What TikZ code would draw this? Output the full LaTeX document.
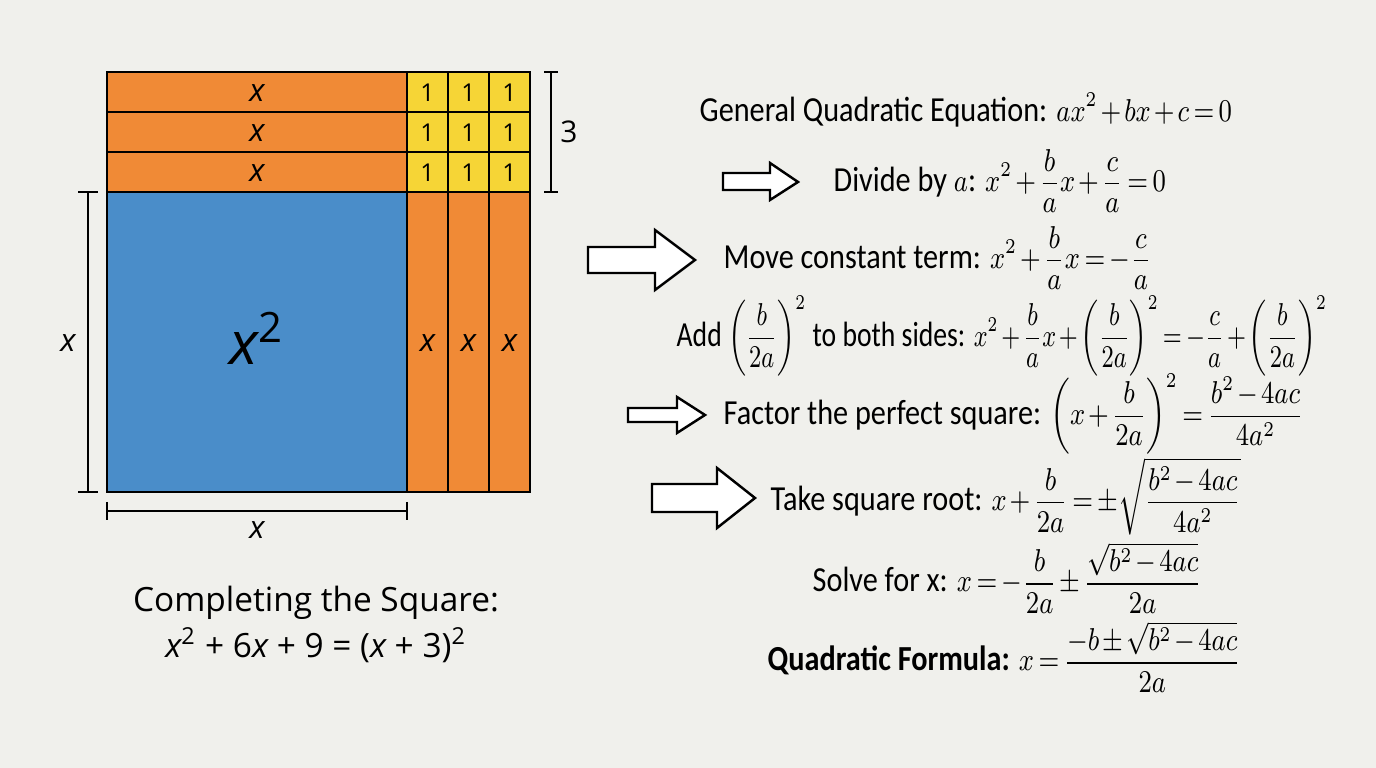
\documentclass[tikz,border=0pt]{standalone}
\usepackage{amsmath}
\usepackage{fontspec}
\setmainfont{Carlito}[FakeStretch=0.86]
\newfontfamily\figfont{Open Sans}
\newcommand{\eq}[1]{\scalebox{0.82}[1]{\fontsize{9}{11}\selectfont$\displaystyle\medmuskip=2mu\thickmuskip=3mu #1$}}

\definecolor{bgcol}{HTML}{F0F0EC}
\definecolor{tileorange}{HTML}{F08A36}
\definecolor{tileyellow}{HTML}{F6D536}
\definecolor{tileblue}{HTML}{4A8DC9}

\tikzset{
  tile/.style={draw=black, line width=0.6pt},
  dimline/.style={line width=0.6pt},
  xlabel/.style={inner sep=0pt, font=\figfont\itshape\fontsize{9}{11}\selectfont},
  onelabel/.style={inner sep=0pt, font=\figfont\fontsize{7}{8}\selectfont},
  titletext/.style={inner sep=0pt, font=\figfont\fontsize{9.5}{11}\selectfont},
  steptext/.style={anchor=west, inner sep=0pt, font=\fontsize{10}{12}\selectfont},
  openarrow/.style={draw=black, fill=white, line width=0.7pt, line join=miter},
}

\begin{document}
\begin{tikzpicture}[x=0.01cm,y=-0.01cm]
    \fill[bgcol] (0,0) rectangle (1376,768);
    \useasboundingbox (0,0) rectangle (1376,768);

    % top strips
    \draw[tile, fill=tileorange] (107,72) rectangle (407,112);
    \draw[tile, fill=tileorange] (107,112) rectangle (407,152);
    \draw[tile, fill=tileorange] (107,152) rectangle (407,192);
    \node[xlabel] (topx1) at (257,93) {x};
    \node[xlabel] (topx2) at (257,133) {x};
    \node[xlabel] (topx3) at (257,173) {x};

    % unit squares
    \draw[tile, fill=tileyellow] (407,72) rectangle (448,112);
    \draw[tile, fill=tileyellow] (448,72) rectangle (489,112);
    \draw[tile, fill=tileyellow] (489,72) rectangle (530,112);
    \draw[tile, fill=tileyellow] (407,112) rectangle (448,152);
    \draw[tile, fill=tileyellow] (448,112) rectangle (489,152);
    \draw[tile, fill=tileyellow] (489,112) rectangle (530,152);
    \draw[tile, fill=tileyellow] (407,152) rectangle (448,192);
    \draw[tile, fill=tileyellow] (448,152) rectangle (489,192);
    \draw[tile, fill=tileyellow] (489,152) rectangle (530,192);
    \node[onelabel] (one11) at (427.5,93) {1};
    \node[onelabel] (one12) at (468.5,93) {1};
    \node[onelabel] (one13) at (509.5,93) {1};
    \node[onelabel] (one21) at (427.5,133) {1};
    \node[onelabel] (one22) at (468.5,133) {1};
    \node[onelabel] (one23) at (509.5,133) {1};
    \node[onelabel] (one31) at (427.5,173) {1};
    \node[onelabel] (one32) at (468.5,173) {1};
    \node[onelabel] (one33) at (509.5,173) {1};

    % big square and side strips
    \draw[tile, fill=tileblue] (107,192) rectangle (407,492);
    \node[inner sep=0pt, font=\figfont\itshape\fontsize{17}{20}\selectfont] (bigsq) at (257,338) {x\textsuperscript{\upshape 2}};
    \draw[tile, fill=tileorange] (407,192) rectangle (448,492);
    \draw[tile, fill=tileorange] (448,192) rectangle (489,492);
    \draw[tile, fill=tileorange] (489,192) rectangle (530,492);
    \node[xlabel] (sidex1) at (427.5,343) {x};
    \node[xlabel] (sidex2) at (468.5,343) {x};
    \node[xlabel] (sidex3) at (509.5,343) {x};

    % dimension brackets
    \draw[dimline] (551,72) -- (551,192);
    \draw[dimline] (544,72) -- (558,72);
    \draw[dimline] (544,192) -- (558,192);
    \node[inner sep=0pt, font=\figfont\fontsize{8.5}{10}\selectfont] (three) at (569,132) {3};
    \draw[dimline] (88,192) -- (88,492);
    \draw[dimline] (78,192) -- (98,192);
    \draw[dimline] (78,492) -- (98,492);
    \node[xlabel] (leftx) at (68,343) {x};
    \draw[dimline] (107,511) -- (407,511);
    \draw[dimline] (107,502) -- (107,520);
    \draw[dimline] (407,502) -- (407,520);
    \node[xlabel] (bottomx) at (257,530) {x};

    % caption
    \node[titletext] (title1) at (316,603) {Completing the Square:};
    \node[titletext] (title2) at (316,645) {{\itshape x}\textsuperscript{2} + 6{\itshape x} + 9 = ({\itshape x} + 3)\textsuperscript{2}};

    % derivation steps
    \node[steptext] (general) at (699,110) {General Quadratic Equation: \eq{ax^2+bx+c=0}};
    \node[steptext] (divide) at (833,181) {Divide by \eq{a}: \eq{x^2+\frac{b}{a}x+\frac{c}{a}=0}};
    \node[steptext] (move) at (723,258) {Move constant term: \eq{x^2+\frac{b}{a}x=-\frac{c}{a}}};
    \node[steptext] (addsq) at (676,336) {\scalebox{0.915}[1]{Add \eq{\biggl(\frac{b}{2a}\biggr)^{2}} to both sides: \eq{x^2+\frac{b}{a}x+\biggl(\frac{b}{2a}\biggr)^2=-\frac{c}{a}+\biggl(\frac{b}{2a}\biggr)^2}}};
    \node[steptext] (factor) at (723,414) {Factor the perfect square: \eq{\biggl(x+\frac{b}{2a}\biggr)^2=\frac{b^2-4ac}{4a^2}}};
    \node[steptext] (sqroot) at (770,496) {Take square root: \eq{x+\frac{b}{2a}=\pm\sqrt{\frac{b^2-4ac}{4a^2}}}};
    \node[steptext] (solve) at (812,578) {Solve for x: \eq{x=-\frac{b}{2a}\pm\frac{\sqrt{b^2-4ac}}{2a}}};
    \node[steptext] (formula) at (767,657) {\textbf{Quadratic Formula:} \eq{x=\frac{-b\pm\sqrt{b^2-4ac}}{2a}}};

    % open arrows
    \draw[openarrow] (723,173) -- (770,173) -- (770,163) -- (798,182) -- (770,200) -- (770,190) -- (723,190) -- cycle;
    \draw[openarrow] (588,247) -- (655,247) -- (655,230) -- (695,260) -- (655,290) -- (655,273) -- (588,273) -- cycle;
    \draw[openarrow] (628,408) -- (677,408) -- (677,397) -- (705,415) -- (677,433) -- (677,422) -- (628,422) -- cycle;
    \draw[openarrow] (652,484) -- (717,484) -- (717,468) -- (755,498) -- (717,528) -- (717,512) -- (652,512) -- cycle;
  \end{tikzpicture}
\end{document}
